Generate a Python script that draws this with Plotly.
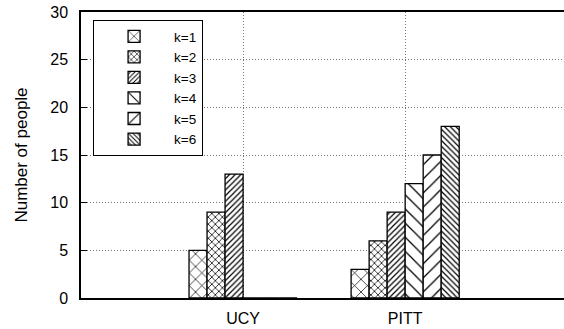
import plotly.graph_objects as go

categories = ["UCY", "PITT"]
series_names = ["k=1", "k=2", "k=3", "k=4", "k=5", "k=6"]
values = {
    "k=1": [5, 3],
    "k=2": [9, 6],
    "k=3": [13, 9],
    "k=4": [0, 12],
    "k=5": [0, 15],
    "k=6": [0, 18],
}
y_ticks = [0, 5, 10, 15, 20, 25, 30]

patterns = {
    "k=1": dict(shape="x", size=9, solidity=0.15),
    "k=2": dict(shape="x", size=5, solidity=0.28),
    "k=3": dict(shape="/", size=4, solidity=0.3),
    "k=4": dict(shape="\\", size=10, solidity=0.13),
    "k=5": dict(shape="/", size=10, solidity=0.13),
    "k=6": dict(shape="\\", size=4, solidity=0.3),
}

fig = go.Figure()
for name in series_names:
    p = patterns[name]
    fig.add_trace(go.Bar(
        name=name, x=categories, y=values[name],
        marker=dict(color="white",
                    line=dict(color="black", width=1.3),
                    pattern=dict(shape=p["shape"], size=p["size"], solidity=p["solidity"],
                                 fgcolor="black", bgcolor="white", fillmode="replace")),
    ))

font = "Liberation Sans, Arial, Helvetica, sans-serif"
fig.update_layout(
    width=564, height=329,
    margin=dict(l=81, r=0, t=12, b=31, autoexpand=False),
    paper_bgcolor="white", plot_bgcolor="white",
    barmode="group", bargap=0.333, bargroupgap=0,
    font=dict(family=font, size=16, color="black"),
    showlegend=True,
    legend=dict(x=0.025, y=0.972, xanchor="left", yanchor="top",
                bgcolor="white", bordercolor="black", borderwidth=1,
                font=dict(size=13.5), tracegroupgap=0, itemwidth=70),
    xaxis=dict(range=[-1, 1.98], showline=True, linecolor="black", linewidth=1.5,
               mirror=True, ticks="", showgrid=True, gridcolor="#777",
               griddash="1px,2px", gridwidth=1, ticklabelstandoff=5,
               tickfont=dict(size=16)),
    yaxis=dict(range=[0, 30], tickvals=y_ticks, showline=True, linecolor="black",
               linewidth=1.5, ticks="inside", ticklen=6, tickcolor="black",
               showgrid=True, gridcolor="#777", griddash="1px,2px", gridwidth=1,
               zeroline=False, ticklabelstandoff=8, tickfont=dict(size=16),
               title=dict(text="Number of people", font=dict(size=17), standoff=18)),
)
fig.write_html("out.html", config={"displayModeBar": False},
               post_script="document.body.style.margin='0px';")
